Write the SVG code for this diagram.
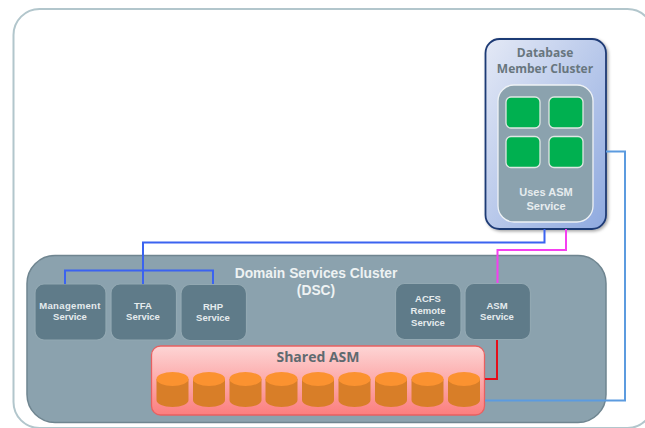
<svg xmlns="http://www.w3.org/2000/svg" width="645" height="428" viewBox="0 0 645 428">
<style>
text{font-family:"Open Sans","Liberation Sans",sans-serif;font-weight:700;text-anchor:middle}
.svc{fill:#5f7b89;stroke:#92a8b2;stroke-width:1.2}
.st{font-family:"Liberation Sans",sans-serif;font-size:9.500px;fill:#e6ecee}
.up{font-family:"Liberation Sans",sans-serif;font-size:11px;fill:#e6ecee}
.ti{font-family:"Liberation Sans",sans-serif;font-size:13.800px;fill:#eef2f3}
.gr{fill:#00b050;stroke:#dfe8e4;stroke-width:1.3}
.cb{fill:#d87e28}
.ct{fill:#fb9230}
.ln{fill:none;stroke-width:2}
</style>
<defs>
<linearGradient id="mem" x1="0" y1="0" x2="1" y2="1"><stop offset="0" stop-color="#e4e9f6"/><stop offset="1" stop-color="#8ea9df"/></linearGradient>
<linearGradient id="red" x1="0" y1="0" x2="0" y2="1"><stop offset="0" stop-color="#fdd5d5"/><stop offset="1" stop-color="#fc7e7e"/></linearGradient>
<filter id="sh" x="-10%" y="-10%" width="120%" height="120%"><feDropShadow dx="1.5" dy="1.5" stdDeviation="1.5" flood-color="#000" flood-opacity=".35"/></filter>
<g id="cyl"><path class="cb" d="M0 7V28C0 32 7 35 16 35S32 32 32 28V7Z"/><ellipse class="ct" cx="16" cy="7" rx="16" ry="7"/></g>
</defs>
<rect id="outer" x="13.500" y="9" width="640" height="419" rx="26" fill="#fff" stroke="#b2c6cc" stroke-width="2"/>
<g id="dsc">
<rect x="27" y="255.500" width="579" height="167" rx="28" fill="#8ba2ae" stroke="#6f8590" stroke-width="1.500"/>
<text class="ti" x="316" y="278">Domain Services Cluster</text>
<text class="ti" x="316" y="295">(DSC)</text>
</g>
<g id="member">
<rect x="485.500" y="39" width="120.500" height="190" rx="14" fill="url(#mem)" stroke="#1f3a75" stroke-width="1.800" filter="url(#sh)"/>
<text x="545" y="57" font-size="12" fill="#68767e">Database</text>
<text x="545" y="73" font-size="12" fill="#68767e">Member Cluster</text>
<rect x="498" y="85" width="95" height="137" rx="16" fill="#8ba2ae" stroke="#eef2f5" stroke-width="1.300"/>
<rect class="gr" x="506" y="97" width="34" height="31" rx="5"/>
<rect class="gr" x="549" y="97" width="34" height="31" rx="5"/>
<rect class="gr" x="506" y="136.500" width="34" height="31" rx="5"/>
<rect class="gr" x="549" y="136.500" width="34" height="31" rx="5"/>
<text class="up" x="546" y="196">Uses ASM</text>
<text class="up" x="546" y="210">Service</text>
</g>
<g id="shared-asm">
<rect x="151.500" y="346" width="333" height="69" rx="9" fill="url(#red)" stroke="#e86060" stroke-width="1.300"/>
<text x="318" y="362" font-size="14" fill="#5f6a70">Shared ASM</text>
<use href="#cyl" x="156.500" y="372"/><use href="#cyl" x="193" y="372"/><use href="#cyl" x="229.500" y="372"/>
<use href="#cyl" x="265.500" y="372"/><use href="#cyl" x="302" y="372"/><use href="#cyl" x="338.500" y="372"/>
<use href="#cyl" x="375" y="372"/><use href="#cyl" x="411.500" y="372"/><use href="#cyl" x="448" y="372"/>
</g>
<g id="management-service"><rect class="svc" x="35" y="284" width="71" height="56" rx="9"/><text class="st" x="70" y="309" letter-spacing=".35">Management</text><text class="st" x="70" y="320">Service</text></g>
<g id="tfa-service"><rect class="svc" x="111" y="284" width="65.500" height="56" rx="9"/><text class="st" x="143" y="309">TFA</text><text class="st" x="143" y="320">Service</text></g>
<g id="rhp-service"><rect class="svc" x="181" y="284.500" width="65.500" height="56" rx="9"/><text class="st" x="213" y="310">RHP</text><text class="st" x="213" y="321">Service</text></g>
<g id="acfs-service"><rect class="svc" x="395.500" y="283.500" width="65.500" height="56" rx="9"/><text class="st" x="428" y="302">ACFS</text><text class="st" x="428" y="314">Remote</text><text class="st" x="428" y="326">Service</text></g>
<g id="asm-service"><rect class="svc" x="465" y="283.500" width="65.500" height="56" rx="9"/><text class="st" x="497" y="309">ASM</text><text class="st" x="497" y="320">Service</text></g>
<g id="connectors">
<path class="ln" stroke="#3b63f0" d="M544.500 229V242.500H143V284M65 284V270.500H213V284"/>
<path class="ln" stroke="#f53ff0" d="M566 229V250H497.500V283"/>
<path class="ln" stroke="#e60e1a" d="M497 340V379H485"/>
<path class="ln" stroke="#5c9bdf" stroke-width="1.500" d="M606 151.500H625V400.500H485"/>
</g>
</svg>
